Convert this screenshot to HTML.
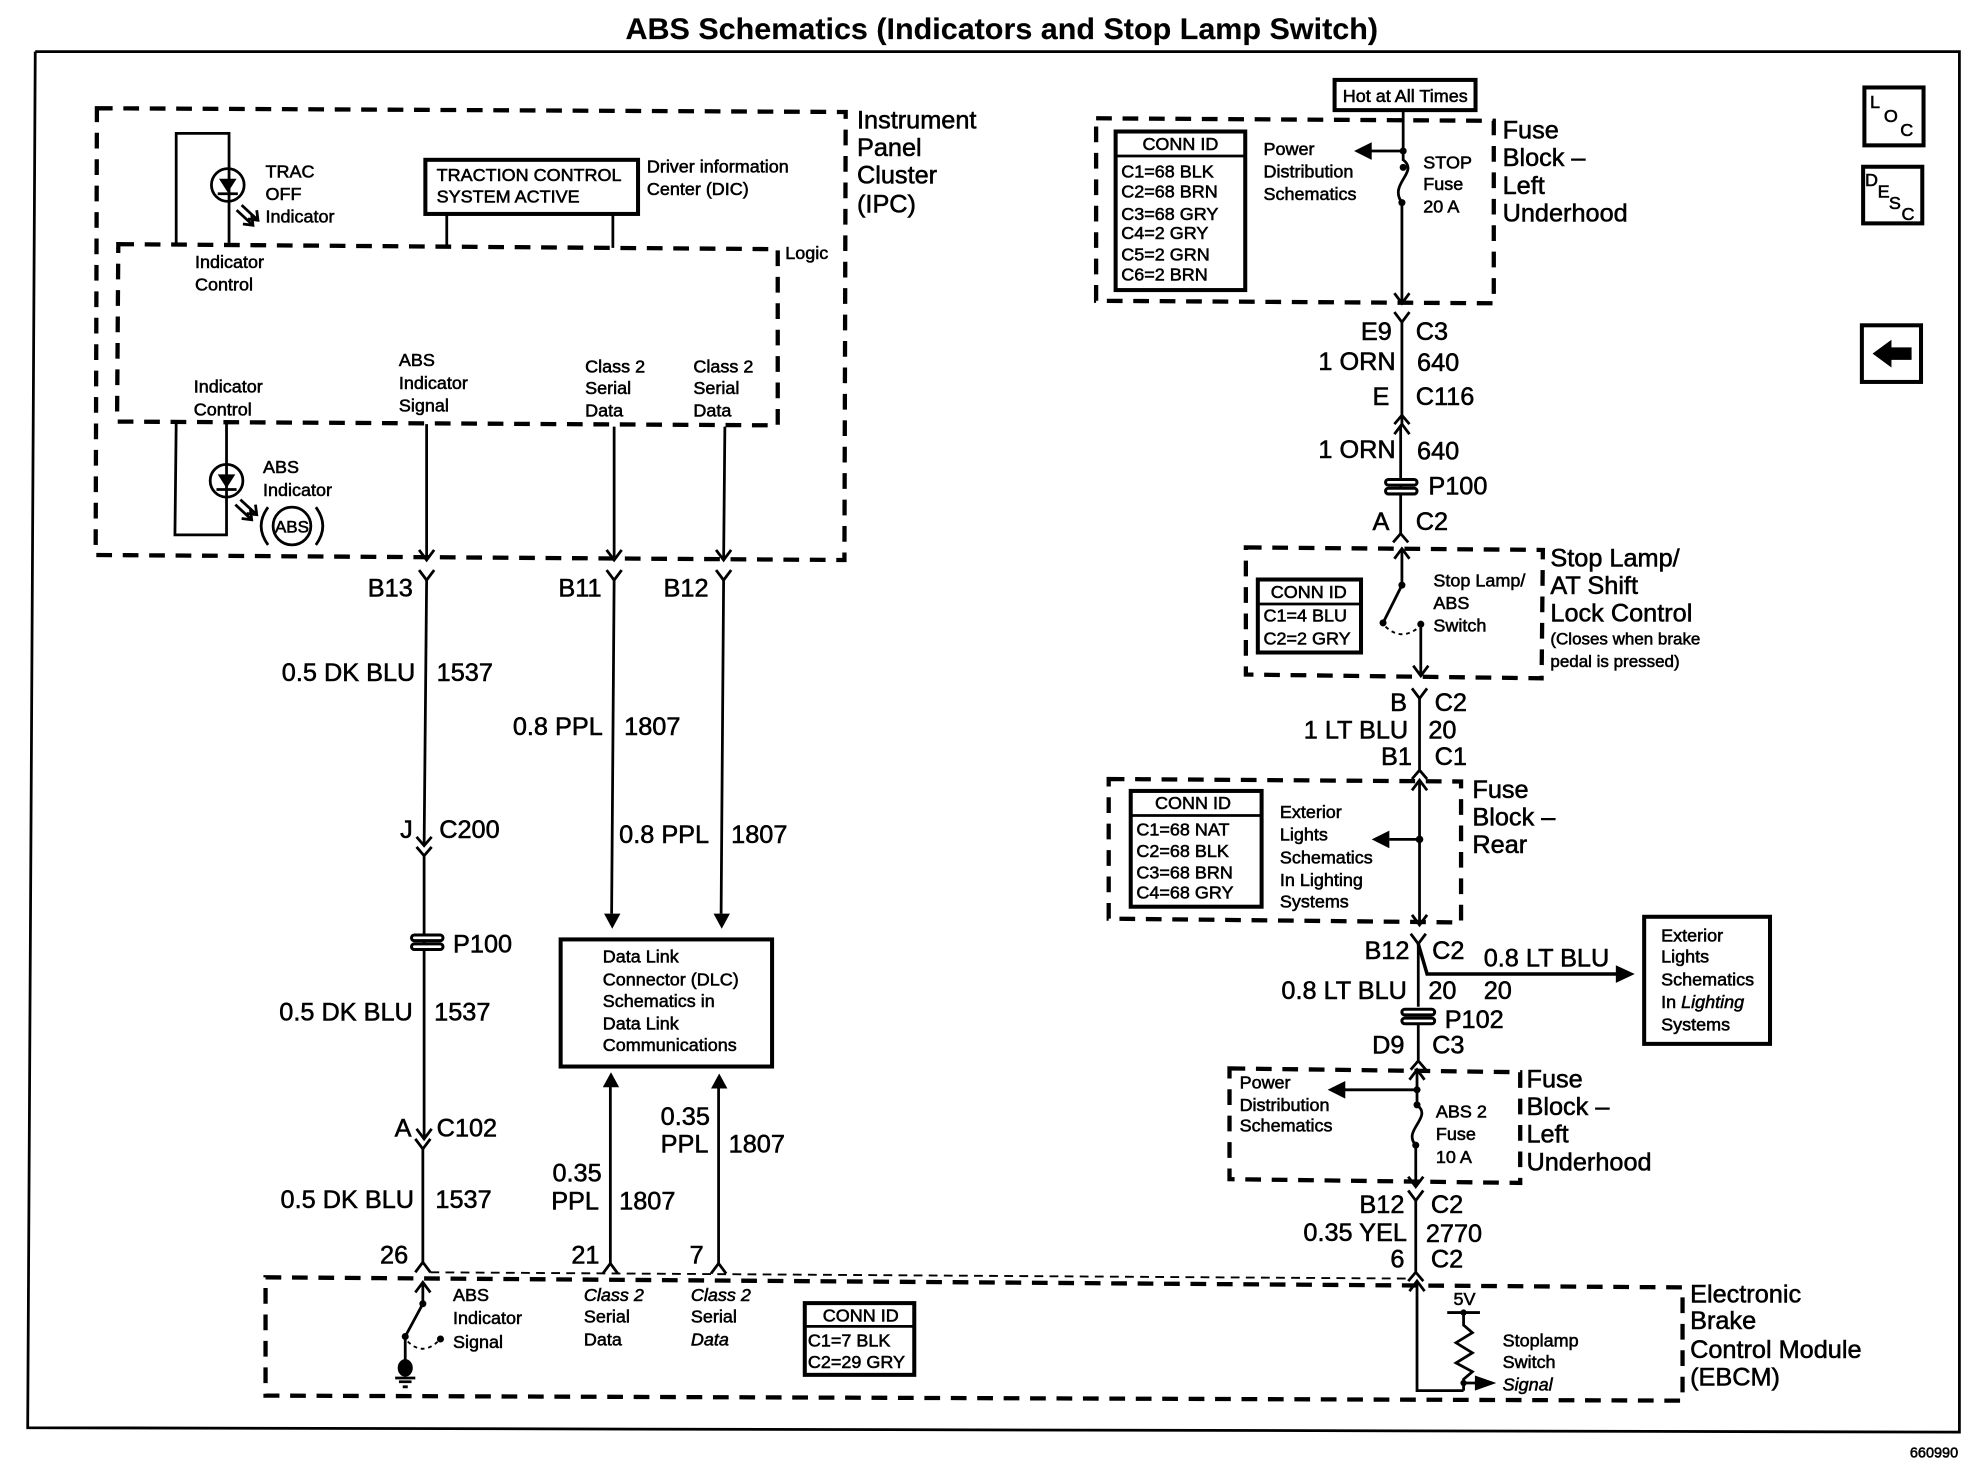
<!DOCTYPE html>
<html><head><meta charset="utf-8"><style>
html,body{margin:0;padding:0;background:#fff}
svg{display:block}
text{font-family:"Liberation Sans",sans-serif;fill:#000;stroke:#000;stroke-width:.45}
.s{font-size:14.3px}.l{font-size:20.1px}.e{text-anchor:end}.m{text-anchor:middle}
.w{fill:none;stroke:#000;stroke-width:2.2}
.b{fill:none;stroke:#000;stroke-width:3.2}
.d{fill:none;stroke:#000;stroke-width:3.4;stroke-dasharray:12.500 8.500}
</style></head><body>
<svg width="1972" height="1472" viewBox="0 0 1567 1169.7" xmlns="http://www.w3.org/2000/svg">
<rect width="1567" height="1170" fill="#fff"/>
<text x="796" y="31" class="m" font-weight="bold" style="font-size:23.500px;stroke-width:.1" textLength="598" lengthAdjust="spacingAndGlyphs">ABS Schematics (Indicators and Stop Lamp Switch)</text>
<path class="w" d="M28,41H1557V1138L22,1134.500L28,41"/>
<text x="1556" y="1158" class="e" style="font-size:11.500px">660990</text>

<!-- IPC -->
<path class="d" d="M77,86L672,89L671,445L76,441Z"/>
<path class="d" d="M94,194L618,198L618,338L93,335Z"/>
<text x="681" y="102" class="l">Instrument</text><text x="681" y="124" class="l">Panel</text><text x="681" y="146" class="l">Cluster</text><text x="681" y="169" class="l">(IPC)</text>
<path class="w" d="M140,193V106H182V193"/>
<circle class="w" cx="181" cy="147" r="13"/>
<path d="M174,142H188L181,153Z"/><path class="w" d="M173,154H189"/>
<path class="w" d="M192,163L205,175M188,167L201,179M197,174L205,175L204,167M193,178L201,179L200,171"/>
<text x="211" y="141" class="s">TRAC</text><text x="211" y="159" class="s">OFF</text><text x="211" y="177" class="s">Indicator</text>
<rect class="b" x="338" y="127" width="169" height="43"/>
<text x="347" y="144" class="s">TRACTION CONTROL</text><text x="347" y="161" class="s">SYSTEM ACTIVE</text>
<path class="w" d="M355,170V195M487,170V197"/>
<text x="514" y="137" class="s">Driver information</text><text x="514" y="155" class="s">Center (DIC)</text>
<text x="624" y="206" class="s">Logic</text>
<text x="155" y="213" class="s">Indicator</text><text x="155" y="231" class="s">Control</text>
<text x="154" y="312" class="s">Indicator</text><text x="154" y="330" class="s">Control</text>
<text x="317" y="291" class="s">ABS</text><text x="317" y="309" class="s">Indicator</text><text x="317" y="327" class="s">Signal</text>
<text x="465" y="296" class="s">Class 2</text><text x="465" y="313" class="s">Serial</text><text x="465" y="331" class="s">Data</text>
<text x="551" y="296" class="s">Class 2</text><text x="551" y="313" class="s">Serial</text><text x="551" y="331" class="s">Data</text>
<path class="w" d="M140,336L139,425H180V336"/>
<circle class="w" cx="180" cy="382" r="13"/>
<path d="M173,377H187L180,388Z"/><path class="w" d="M172,389H188"/>
<path class="w" d="M191,397L204,409M187,401L200,413M196,408L204,409L203,401M192,412L200,413L199,405"/>
<text x="209" y="376" class="s">ABS</text><text x="209" y="394" class="s">Indicator</text>
<circle class="w" cx="232" cy="418" r="15"/>
<path class="w" d="M213,403Q202,418 213,433M251,403Q262,418 251,433"/>
<text x="232" y="423" class="m" style="font-size:13.500px">ABS</text>
<path class="w" d="M339,337V445M488,339V445M576,339L575,445"/>
<path class="w" d="M333,437L339,445L345,437M482,437L488,445L494,437M569,437L575,445L581,437"/>
<path class="w" d="M333,453L339,461L345,453M482,453L488,461L494,453M569,453L575,461L581,453"/>

<!-- left wires -->
<path class="w" d="M339,461L337,672"/>
<path class="w" d="M331,665L337,672L343,665M331,673L337,680L343,673"/>
<path class="w" d="M337,680V905M336,912V1005"/>
<path class="w" d="M331,897L337,905L343,897M330,905L336,913L342,905"/>
<rect x="327" y="743" width="25" height="4.500" rx="2.200" fill="#fff" stroke="#000" stroke-width="2.400"/>
<rect x="327" y="750" width="25" height="4.500" rx="2.200" fill="#fff" stroke="#000" stroke-width="2.400"/>
<text x="328" y="474" class="l e">B13</text>
<text x="330" y="541" class="l e">0.5 DK BLU</text><text x="347" y="541" class="l">1537</text>
<text x="328" y="666" class="l e">J</text><text x="349" y="666" class="l">C200</text>
<text x="360" y="757" class="l">P100</text>
<text x="328" y="811" class="l e">0.5 DK BLU</text><text x="345" y="811" class="l">1537</text>
<text x="327" y="903" class="l e">A</text><text x="347" y="903" class="l">C102</text>
<text x="329" y="960" class="l e">0.5 DK BLU</text><text x="346" y="960" class="l">1537</text>
<text x="302" y="1004" class="l">26</text>

<path class="w" d="M488,461L486,726M575,461L573,726"/>
<path d="M480,726H493L486.500,738ZM567,726H580L573.500,738Z"/>
<text x="478" y="474" class="l e">B11</text><text x="563" y="474" class="l e">B12</text>
<text x="479" y="584" class="l e">0.8 PPL</text><text x="496" y="584" class="l">1807</text>
<text x="492" y="670" class="l">0.8 PPL</text><text x="581" y="670" class="l">1807</text>
<rect class="b" x="445.500" y="746.500" width="168" height="101"/>
<text x="479" y="765" class="s">Data Link</text><text x="479" y="783" class="s">Connector (DLC)</text><text x="479" y="800" class="s">Schematics in</text><text x="479" y="818" class="s">Data Link</text><text x="479" y="835" class="s">Communications</text>
<path class="w" d="M485,860V1005M571,860V1005"/>
<path d="M479,864H492L485.500,852ZM565,865H578L571.500,853Z"/>
<path class="w" d="M479,1012L485,1004L491,1012M565,1012L571,1004L577,1012M330,1011L336,1003L342,1011"/>
<text x="439" y="939" class="l">0.35</text><text x="438" y="961" class="l">PPL</text><text x="492" y="961" class="l">1807</text>
<text x="525" y="894" class="l">0.35</text><text x="525" y="916" class="l">PPL</text><text x="579" y="916" class="l">1807</text>
<text x="454" y="1004" class="l">21</text><text x="548" y="1004" class="l">7</text>

<!-- EBCM -->
<path fill="none" stroke="#000" stroke-width="1.500" stroke-dasharray="7 5" d="M342,1011L1120,1016"/>
<path class="d" d="M211,1015L1337,1023L1337,1113L211,1109Z"/>
<path class="w" d="M330,1027L336,1019L342,1027M336,1020V1036L322,1062V1082"/>
<circle cx="336" cy="1036" r="2.800"/><circle cx="322" cy="1062" r="2.800"/><circle cx="350" cy="1064" r="2.800"/>
<path fill="none" stroke="#000" stroke-width="1.500" stroke-dasharray="3 3" d="M324,1066Q336,1078 349,1065"/>
<ellipse cx="322" cy="1087" rx="6" ry="7"/>
<path class="w" d="M314,1095H330M317,1098H327M320,1102H324"/>
<text x="360" y="1034" class="s">ABS</text><text x="360" y="1052" class="s">Indicator</text><text x="360" y="1071" class="s">Signal</text>
<text x="464" y="1034" class="s" font-style="italic">Class 2</text><text x="464" y="1051" class="s">Serial</text><text x="464" y="1069" class="s">Data</text>
<text x="549" y="1034" class="s" font-style="italic">Class 2</text><text x="549" y="1051" class="s">Serial</text><text x="549" y="1069" class="s" font-style="italic">Data</text>
<rect class="b" x="639.500" y="1035.500" width="87" height="57"/>
<path class="w" d="M639,1054H727"/>
<text x="684" y="1050" class="s m">CONN ID</text><text x="642" y="1070" class="s">C1=7 BLK</text><text x="642" y="1087" class="s">C2=29 GRY</text>

<path class="w" d="M1126,1018V1105H1163"/>
<path class="w" d="M1120,1026L1126,1018L1132,1026"/>
<text x="1155" y="1037" class="s">5V</text>
<path class="w" d="M1150,1043H1176M1163,1043V1053L1170,1059L1157,1067L1170,1075L1157,1083L1170,1090L1163,1096V1105"/>
<circle cx="1163" cy="1043" r="2.500"/><circle cx="1163" cy="1099" r="2.500"/>
<path class="w" d="M1163,1099H1178"/><path d="M1172,1093L1189,1099L1172,1105Z"/>
<text x="1194" y="1070" class="s">Stoplamp</text><text x="1194" y="1087" class="s">Switch</text><text x="1194" y="1105" class="s" font-style="italic">Signal</text>
<text x="1343" y="1035" class="l">Electronic</text><text x="1343" y="1056" class="l">Brake</text><text x="1343" y="1079" class="l">Control Module</text><text x="1343" y="1101" class="l">(EBCM)</text>

<!-- top right -->
<rect class="b" x="1060.500" y="63.500" width="112" height="24"/>
<text x="1067" y="81" class="s">Hot at All Times</text>
<path class="d" d="M871,94L1187,96L1187,241L871,239Z"/>
<rect class="b" x="886.500" y="104.500" width="103" height="126"/>
<path class="w" d="M886,124H990"/>
<text x="938" y="119" class="s m">CONN ID</text>
<text x="891" y="141" class="s">C1=68 BLK</text><text x="891" y="157" class="s">C2=68 BRN</text><text x="891" y="175" class="s">C3=68 GRY</text><text x="891" y="190" class="s">C4=2 GRY</text><text x="891" y="207" class="s">C5=2 GRN</text><text x="891" y="223" class="s">C6=2 BRN</text>
<text x="1004" y="123" class="s">Power</text><text x="1004" y="141" class="s">Distribution</text><text x="1004" y="159" class="s">Schematics</text>
<path class="w" d="M1115,87V127C1128,137 1103,146 1114,161V240M1088,120H1115"/>
<path d="M1090,113L1076,120L1090,127Z"/>
<circle cx="1115" cy="120" r="2.800"/><circle cx="1115" cy="133" r="2.800"/><circle cx="1114" cy="161" r="2.800"/>
<path class="w" d="M1108,233L1114,241L1120,233M1108,248L1114,256L1120,248"/>
<text x="1131" y="134" class="s">STOP</text><text x="1131" y="151" class="s">Fuse</text><text x="1131" y="169" class="s">20 A</text>
<text x="1194" y="110" class="l">Fuse</text><text x="1194" y="132" class="l">Block –</text><text x="1194" y="154" class="l">Left</text><text x="1194" y="176" class="l">Underhood</text>
<path class="w" d="M1114,256V338M1113,338V425"/>
<path class="w" d="M1108,337L1114,330L1120,337M1108,345L1114,337L1120,345"/>
<text x="1106" y="270" class="l e">E9</text><text x="1125" y="270" class="l">C3</text>
<text x="1109" y="294" class="l e">1 ORN</text><text x="1126" y="295" class="l">640</text>
<text x="1104" y="322" class="l e">E</text><text x="1125" y="322" class="l">C116</text>
<text x="1109" y="364" class="l e">1 ORN</text><text x="1126" y="365" class="l">640</text>
<rect x="1101" y="381" width="25" height="4.500" rx="2.200" fill="#fff" stroke="#000" stroke-width="2.400"/>
<rect x="1101" y="388" width="25" height="4.500" rx="2.200" fill="#fff" stroke="#000" stroke-width="2.400"/>
<text x="1135" y="393" class="l">P100</text>
<text x="1104" y="421" class="l e">A</text><text x="1125" y="421" class="l">C2</text>
<path class="w" d="M1107,431L1113,424L1119,431"/>

<path class="d" d="M990,435L1226,437L1225,539L990,536Z"/>
<rect class="b" x="999.500" y="460.500" width="82" height="58"/>
<path class="w" d="M999,480H1082"/>
<text x="1040" y="475" class="s m">CONN ID</text><text x="1004" y="494" class="s">C1=4 BLU</text><text x="1004" y="512" class="s">C2=2 GRY</text>
<path class="w" d="M1108,444L1114,436L1120,444M1114,436V465L1099,495M1129,496V536M1123,529L1129,537L1135,529"/>
<circle cx="1114" cy="465" r="2.800"/><circle cx="1099" cy="495" r="2.800"/><circle cx="1129" cy="496" r="2.800"/>
<path fill="none" stroke="#000" stroke-width="1.500" stroke-dasharray="3 3" d="M1101,498Q1114,510 1128,498"/>
<text x="1139" y="466" class="s">Stop Lamp/</text><text x="1139" y="484" class="s">ABS</text><text x="1139" y="502" class="s">Switch</text>
<text x="1232" y="450" class="l">Stop Lamp/</text><text x="1232" y="472" class="l">AT Shift</text><text x="1232" y="494" class="l">Lock Control</text>
<text x="1232" y="512" style="font-size:13.500px">(Closes when brake</text><text x="1232" y="530" style="font-size:13.500px">pedal is pressed)</text>

<path class="w" d="M1122,547L1128,555L1134,547M1128,555V612M1122,619L1128,612L1134,619"/>
<text x="1118" y="565" class="l e">B</text><text x="1140" y="565" class="l">C2</text>
<text x="1119" y="587" class="l e">1 LT BLU</text><text x="1135" y="587" class="l">20</text>
<text x="1122" y="608" class="l e">B1</text><text x="1140" y="608" class="l">C1</text>

<path class="d" d="M881,619L1161,621L1161,733L881,730Z"/>
<rect class="b" x="898.500" y="628.500" width="104" height="92"/>
<path class="w" d="M898,648H1003"/>
<text x="948" y="643" class="s m">CONN ID</text><text x="903" y="664" class="s">C1=68 NAT</text><text x="903" y="681" class="s">C2=68 BLK</text><text x="903" y="698" class="s">C3=68 BRN</text><text x="903" y="714" class="s">C4=68 GRY</text>
<text x="1017" y="650" class="s">Exterior</text><text x="1017" y="668" class="s">Lights</text><text x="1017" y="686" class="s">Schematics</text><text x="1017" y="704" class="s">In Lighting</text><text x="1017" y="721" class="s">Systems</text>
<path class="w" d="M1122,628L1128,620L1134,628M1128,620V735M1122,727L1128,735L1134,727M1104,667H1128"/>
<path d="M1104,660L1090,667L1104,674Z"/><circle cx="1128" cy="667" r="3"/>
<text x="1170" y="634" class="l">Fuse</text><text x="1170" y="656" class="l">Block –</text><text x="1170" y="678" class="l">Rear</text>

<path class="w" d="M1121,742L1127,750L1133,742M1127,750V800M1127,814V843M1121,850L1127,843L1133,850"/>
<path fill="none" stroke="#000" stroke-width="2.800" d="M1127,750L1134,774H1286"/>
<path d="M1284,767L1299,774L1284,781Z"/>
<text x="1120" y="762" class="l e">B12</text><text x="1138" y="762" class="l">C2</text>
<text x="1179" y="768" class="l">0.8 LT BLU</text>
<text x="1118" y="794" class="l e">0.8 LT BLU</text><text x="1135" y="794" class="l">20</text><text x="1179" y="794" class="l">20</text>
<rect x="1114" y="802" width="26" height="4.500" rx="2.200" fill="#fff" stroke="#000" stroke-width="2.400"/>
<rect x="1114" y="809" width="26" height="4.500" rx="2.200" fill="#fff" stroke="#000" stroke-width="2.400"/>
<text x="1148" y="817" class="l">P102</text>
<text x="1116" y="837" class="l e">D9</text><text x="1138" y="837" class="l">C3</text>
<rect class="b" x="1306.500" y="728.500" width="100" height="101"/>
<text x="1320" y="748" class="s">Exterior</text><text x="1320" y="765" class="s">Lights</text><text x="1320" y="783" class="s">Schematics</text><text x="1320" y="801" class="s">In <tspan font-style="italic">Lighting</tspan></text><text x="1320" y="819" class="s">Systems</text>

<path class="d" d="M977,849L1208,852L1208,940L977,937Z"/>
<text x="985" y="865" class="s">Power</text><text x="985" y="883" class="s">Distribution</text><text x="985" y="899" class="s">Schematics</text>
<path class="w" d="M1120,858L1126,850L1132,858M1126,850V878C1139,888 1114,898 1125,910V943M1119,935L1125,943L1131,935M1066,866H1126"/>
<path d="M1069,859L1055,866L1069,873Z"/>
<circle cx="1126" cy="866" r="2.800"/><circle cx="1126" cy="878" r="2.800"/><circle cx="1125" cy="910" r="2.800"/>
<text x="1141" y="888" class="s">ABS 2</text><text x="1141" y="906" class="s">Fuse</text><text x="1141" y="924" class="s">10 A</text>
<text x="1213" y="864" class="l">Fuse</text><text x="1213" y="886" class="l">Block –</text><text x="1213" y="908" class="l">Left</text><text x="1213" y="930" class="l">Underhood</text>
<path class="w" d="M1119,946L1125,954L1131,946M1125,954V1011M1119,1018L1125,1011L1131,1018"/>
<text x="1116" y="964" class="l e">B12</text><text x="1137" y="964" class="l">C2</text>
<text x="1118" y="986" class="l e">0.35 YEL</text><text x="1133" y="987" class="l">2770</text>
<text x="1116" y="1007" class="l e">6</text><text x="1137" y="1007" class="l">C2</text>

<!-- side buttons -->
<rect class="b" x="1481.500" y="69.500" width="47" height="46"/>
<text x="1486" y="86" class="s">L</text><text x="1497" y="97" class="s">O</text><text x="1510" y="108" class="s">C</text>
<rect class="b" x="1480.500" y="132.500" width="47" height="45"/>
<text x="1482" y="148" class="s">D</text><text x="1492" y="157" class="s">E</text><text x="1501" y="166" class="s">S</text><text x="1511" y="175" class="s">C</text>
<rect class="b" x="1479.500" y="258.500" width="47" height="45"/>
<path d="M1488,281L1503,270V276H1519V286H1503V292Z"/>
</svg>
</body></html>
